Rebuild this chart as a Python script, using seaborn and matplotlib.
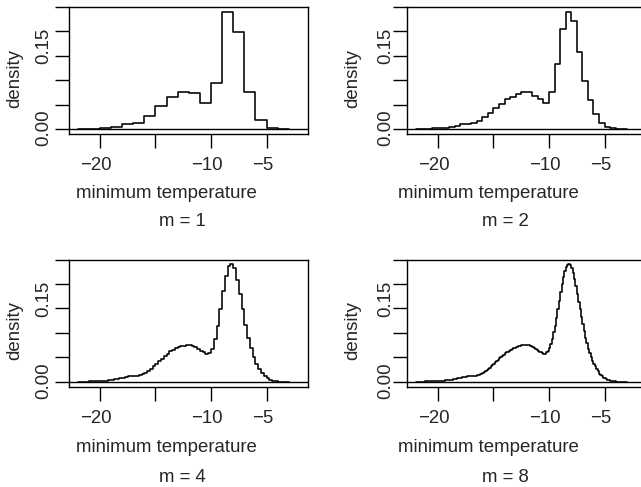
import numpy as np
import pandas as pd
import matplotlib
matplotlib.use("Agg")
import matplotlib.pyplot as plt
import matplotlib.transforms as mtransforms
import seaborn as sns

# histogram densities of minimum temperature, bins from -22 to -3
m1 = [0.0005, 0.001, 0.002, 0.005, 0.010, 0.012, 0.027, 0.047, 0.065, 0.076,
      0.073, 0.054, 0.094, 0.239, 0.199, 0.075, 0.018, 0.003, 0.001]

m2 = [0.0002, 0.0004, 0.0008, 0.0012, 0.0018, 0.003, 0.005, 0.007, 0.0095, 0.010,
      0.012, 0.017, 0.024, 0.033, 0.043, 0.051, 0.061, 0.066, 0.071, 0.075,
      0.075, 0.068, 0.061, 0.054, 0.075, 0.132, 0.204, 0.239, 0.220, 0.158,
      0.098, 0.059, 0.031, 0.013, 0.005, 0.0015, 0.0005, 0.0002]

m4 = [0.0002, 0.0003, 0.0005, 0.0006, 0.0008, 0.0010, 0.0012, 0.0014,
      0.0017, 0.0021, 0.0026, 0.0032, 0.0040, 0.0050, 0.0062, 0.0075,
      0.0088, 0.0100, 0.0110, 0.0116, 0.0120, 0.0125, 0.0135, 0.0155,
      0.0185, 0.0225, 0.0265, 0.0315, 0.0365, 0.0420, 0.0475, 0.0525,
      0.0575, 0.0620, 0.0660, 0.0690, 0.0710, 0.0730, 0.0742, 0.0748,
      0.0745, 0.0735, 0.0710, 0.0680, 0.0635, 0.0600, 0.0570, 0.0580,
      0.0680, 0.0880, 0.1150, 0.1480, 0.1850, 0.2160, 0.2360, 0.2410,
      0.2320, 0.2090, 0.1790, 0.1480, 0.1170, 0.0900, 0.0690, 0.0510,
      0.0370, 0.0260, 0.0170, 0.0110, 0.0068, 0.0040, 0.0022, 0.0012,
      0.0006, 0.0003, 0.0001, 0.0000]

m8 = [0.0002, 0.0002, 0.0003, 0.0003, 0.0004, 0.0005, 0.0006, 0.0007,
      0.0008, 0.0008, 0.0009, 0.0010, 0.0011, 0.0012, 0.0013, 0.0015,
      0.0016, 0.0018, 0.0020, 0.0022, 0.0025, 0.0028, 0.0031, 0.0034,
      0.0037, 0.0042, 0.0047, 0.0052, 0.0058, 0.0064, 0.0071, 0.0078,
      0.0085, 0.0091, 0.0097, 0.0103, 0.0108, 0.0112, 0.0115, 0.0118,
      0.0120, 0.0122, 0.0124, 0.0128, 0.0135, 0.0145, 0.0157, 0.0168,
      0.0180, 0.0198, 0.0218, 0.0239, 0.0260, 0.0287, 0.0314, 0.0342,
      0.0370, 0.0398, 0.0425, 0.0453, 0.0480, 0.0505, 0.0530, 0.0555,
      0.0580, 0.0600, 0.0620, 0.0640, 0.0660, 0.0673, 0.0686, 0.0698,
      0.0710, 0.0719, 0.0728, 0.0737, 0.0745, 0.0748, 0.0750, 0.0751,
      0.0750, 0.0745, 0.0738, 0.0726, 0.0710, 0.0693, 0.0675, 0.0658,
      0.0640, 0.0620, 0.0600, 0.0585, 0.0570, 0.0575, 0.0600, 0.0640,
      0.0700, 0.0780, 0.0880, 0.1010, 0.1150, 0.1310, 0.1480, 0.1660,
      0.1840, 0.2000, 0.2150, 0.2260, 0.2350, 0.2390, 0.2410, 0.2385,
      0.2330, 0.2230, 0.2100, 0.1960, 0.1800, 0.1640, 0.1480, 0.1330,
      0.1180, 0.1040, 0.0900, 0.0785, 0.0680, 0.0585, 0.0500, 0.0430,
      0.0370, 0.0315, 0.0260, 0.0212, 0.0170, 0.0138, 0.0110, 0.0088,
      0.0070, 0.0055, 0.0042, 0.0033, 0.0025, 0.0018, 0.0013, 0.0009,
      0.0006, 0.0005, 0.0004, 0.0003, 0.0002, 0.0001, 0.0001, 0.0000]

series = {"m = 1": m1, "m = 2": m2, "m = 4": m4, "m = 8": m8}
lo, hi = -22, -3
xticks = [-20, -15, -10, -5]
xticklabels = ["\u221220", "", "\u221210", "\u22125"]

sns.set_theme(style="white")
plt.rcParams["font.family"] = ["Liberation Sans", "DejaVu Sans"]

W, H = 641, 487
fs = 13.4
fig = plt.figure(figsize=(W / 100, H / 100), dpi=100)

# panel boxes in pixels: left, top ; width/height shared
bw, bh = 239, 127.6
boxes = [(69.3, 6.7), (407.3, 6.7), (69.3, 259.5), (407.3, 259.5)]
ytops = [0.2496, 0.2502, 0.2496, 0.2502]
# text x positions (pixels): density, ytick labels, xlabel, sub
col_txt = [(14.5, 43.5, 166.5, 182.5), (352.5, 385.5, 488, 505)]
row_off = [0, 253]


def px(x, y):
    return x / W, 1 - y / H


shift = mtransforms.ScaledTranslation(-4 / 100, 0, fig.dpi_scale_trans)

for i, (name, vals) in enumerate(series.items()):
    l, t = boxes[i]
    ax = fig.add_axes([l / W, 1 - (t + bh) / H, bw / W, bh / H])
    n = len(vals)
    edges = np.linspace(lo, hi, n + 1)
    df = pd.DataFrame({"temp": (edges[:-1] + edges[1:]) / 2, "dens": vals})
    sns.histplot(data=df, x="temp", weights="dens", bins=list(edges),
                 element="step", fill=False, color="black", linewidth=1.15,
                 ax=ax)
    ax.axhline(0, color="black", linewidth=1.0)
    ax.set_xlim(-22.76, -1.24)
    ax.set_ylim(-0.0108, ytops[i])
    ax.set_xticks(xticks, labels=xticklabels)
    ax.set_yticks([0, 0.05, 0.10, 0.15, 0.20, 0.25], labels=[""] * 6)
    ax.set_xlabel("")
    ax.set_ylabel("")
    ax.tick_params(direction="out", length=10, width=1.0, color="black",
                   labelsize=fs, pad=6.5, bottom=True, left=True)
    for lab in ax.get_xticklabels():
        lab.set_transform(lab.get_transform() + shift)
    for s in ax.spines.values():
        s.set_color("black")
        s.set_linewidth(1.0)

    cx = col_txt[i % 2]
    dy = row_off[i // 2]
    fig.text(*px(cx[0], 78 + dy), "density", rotation=90, ha="center",
             va="center", fontsize=fs)
    fig.text(*px(cx[1], 127.5 + dy), "0.00", rotation=90, ha="center",
             va="center", fontsize=fs)
    fig.text(*px(cx[1], 46 + dy), "0.15", rotation=90, ha="center",
             va="center", fontsize=fs)
    fig.text(*px(cx[2], 194 + dy), "minimum temperature", ha="center",
             va="center", fontsize=fs)
    fig.text(*px(cx[3], 221 + dy + (3 if i >= 2 else 0)), name, ha="center",
             va="center", fontsize=fs)

fig.savefig("out.png", dpi=100)
